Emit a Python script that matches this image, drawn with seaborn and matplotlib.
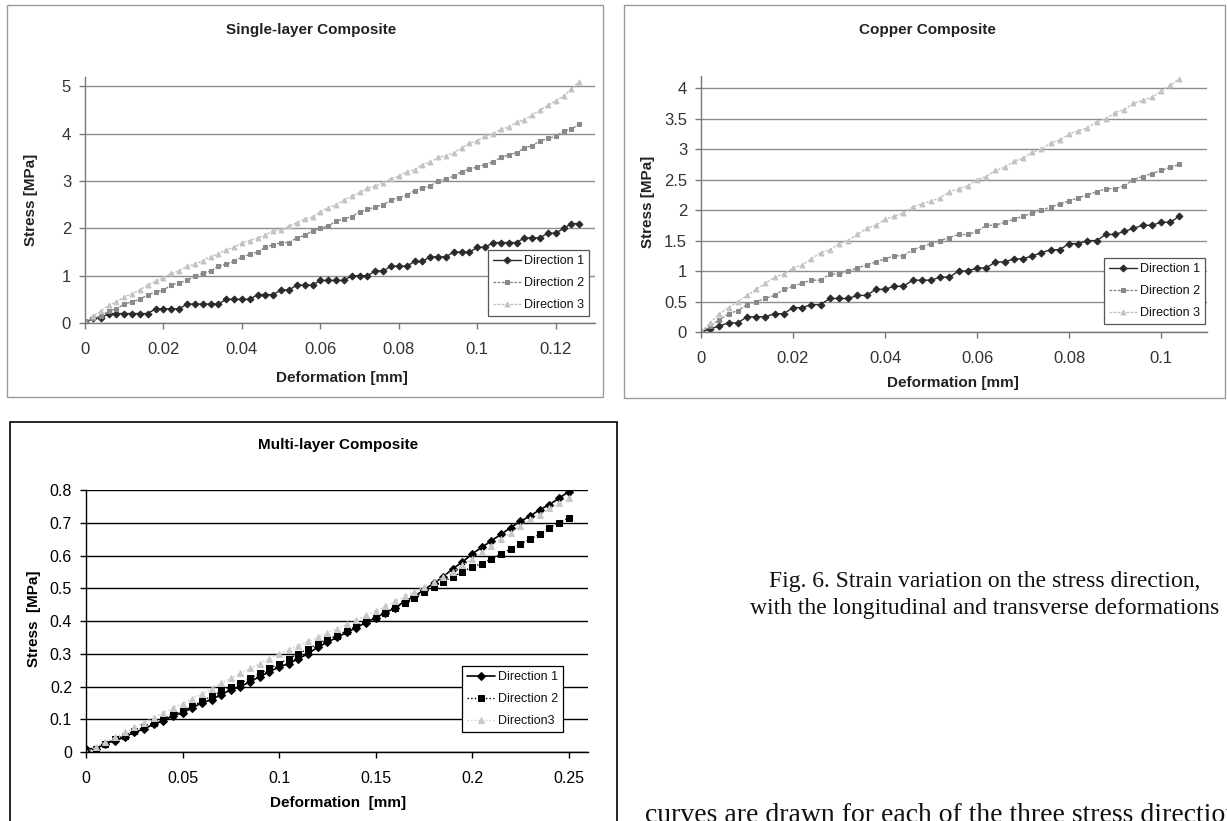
import matplotlib
matplotlib.use("Agg")
import matplotlib.pyplot as plt
import seaborn as sns
from matplotlib.patches import Rectangle

# ---------------- data ----------------
# Single-layer composite
single_x = [0.000, 0.002, 0.004, 0.006, 0.008, 0.010, 0.012, 0.014, 0.016, 0.018,
            0.020, 0.022, 0.024, 0.026, 0.028, 0.030, 0.032, 0.034, 0.036, 0.038,
            0.040, 0.042, 0.044, 0.046, 0.048, 0.050, 0.052, 0.054, 0.056, 0.058,
            0.060, 0.062, 0.064, 0.066, 0.068, 0.070, 0.072, 0.074, 0.076, 0.078,
            0.080, 0.082, 0.084, 0.086, 0.088, 0.090, 0.092, 0.094, 0.096, 0.098,
            0.100, 0.102, 0.104, 0.106, 0.108, 0.110, 0.112, 0.114, 0.116, 0.118,
            0.120, 0.122, 0.124, 0.126]
single_d1 = [0.0, 0.1, 0.1, 0.2, 0.2, 0.2, 0.2, 0.2, 0.2, 0.3,
             0.3, 0.3, 0.3, 0.4, 0.4, 0.4, 0.4, 0.4, 0.5, 0.5,
             0.5, 0.5, 0.6, 0.6, 0.6, 0.7, 0.7, 0.8, 0.8, 0.8,
             0.9, 0.9, 0.9, 0.9, 1.0, 1.0, 1.0, 1.1, 1.1, 1.2,
             1.2, 1.2, 1.3, 1.3, 1.4, 1.4, 1.4, 1.5, 1.5, 1.5,
             1.6, 1.6, 1.7, 1.7, 1.7, 1.7, 1.8, 1.8, 1.8, 1.9,
             1.9, 2.0, 2.1, 2.1]
single_d2 = [0.05, 0.1, 0.15, 0.25, 0.3, 0.4, 0.45, 0.5, 0.6, 0.65,
             0.7, 0.8, 0.85, 0.9, 1.0, 1.05, 1.1, 1.2, 1.25, 1.3,
             1.4, 1.45, 1.5, 1.6, 1.65, 1.7, 1.7, 1.8, 1.85, 1.95,
             2.0, 2.05, 2.15, 2.2, 2.25, 2.35, 2.4, 2.45, 2.5, 2.6,
             2.65, 2.7, 2.8, 2.85, 2.9, 3.0, 3.05, 3.1, 3.2, 3.25,
             3.3, 3.35, 3.4, 3.5, 3.55, 3.6, 3.7, 3.75, 3.85, 3.9,
             3.95, 4.05, 4.1, 4.2]
single_d3 = [0.0, 0.15, 0.25, 0.37, 0.45, 0.55, 0.62, 0.7, 0.8, 0.88,
             0.96, 1.05, 1.1, 1.2, 1.24, 1.32, 1.4, 1.46, 1.55, 1.6,
             1.7, 1.74, 1.8, 1.86, 1.95, 1.96, 2.05, 2.12, 2.2, 2.24,
             2.35, 2.44, 2.5, 2.6, 2.68, 2.76, 2.85, 2.9, 2.96, 3.05,
             3.1, 3.2, 3.24, 3.35, 3.4, 3.5, 3.54, 3.6, 3.7, 3.8,
             3.85, 3.95, 4.0, 4.1, 4.14, 4.25, 4.3, 4.4, 4.5, 4.6,
             4.7, 4.8, 4.95, 5.1]

# Copper composite
copper_x = [0.000, 0.002, 0.004, 0.006, 0.008, 0.010, 0.012, 0.014, 0.016, 0.018,
            0.020, 0.022, 0.024, 0.026, 0.028, 0.030, 0.032, 0.034, 0.036, 0.038,
            0.040, 0.042, 0.044, 0.046, 0.048, 0.050, 0.052, 0.054, 0.056, 0.058,
            0.060, 0.062, 0.064, 0.066, 0.068, 0.070, 0.072, 0.074, 0.076, 0.078,
            0.080, 0.082, 0.084, 0.086, 0.088, 0.090, 0.092, 0.094, 0.096, 0.098,
            0.100, 0.102, 0.104]
copper_d1 = [0.0, 0.05, 0.1, 0.15, 0.15, 0.25, 0.25, 0.25, 0.3, 0.3,
             0.4, 0.4, 0.45, 0.45, 0.55, 0.55, 0.55, 0.6, 0.6, 0.7,
             0.7, 0.75, 0.75, 0.85, 0.85, 0.85, 0.9, 0.9, 1.0, 1.0,
             1.05, 1.05, 1.15, 1.15, 1.2, 1.2, 1.25, 1.3, 1.35, 1.35,
             1.45, 1.45, 1.5, 1.5, 1.6, 1.6, 1.65, 1.7, 1.75, 1.75,
             1.8, 1.8, 1.9]
copper_d2 = [0.0, 0.1, 0.2, 0.3, 0.35, 0.45, 0.5, 0.55, 0.6, 0.7,
             0.75, 0.8, 0.85, 0.85, 0.95, 0.95, 1.0, 1.05, 1.1, 1.15,
             1.2, 1.25, 1.25, 1.35, 1.4, 1.45, 1.5, 1.55, 1.6, 1.6,
             1.65, 1.75, 1.75, 1.8, 1.85, 1.9, 1.95, 2.0, 2.05, 2.1,
             2.15, 2.2, 2.25, 2.3, 2.35, 2.35, 2.4, 2.5, 2.55, 2.6,
             2.65, 2.7, 2.75]
copper_d3 = [0.0, 0.15, 0.3, 0.4, 0.5, 0.6, 0.7, 0.8, 0.9, 0.95,
             1.05, 1.1, 1.2, 1.3, 1.35, 1.45, 1.5, 1.6, 1.7, 1.75,
             1.85, 1.9, 1.95, 2.05, 2.1, 2.15, 2.2, 2.3, 2.35, 2.4,
             2.5, 2.55, 2.65, 2.7, 2.8, 2.85, 2.95, 3.0, 3.1, 3.15,
             3.25, 3.3, 3.35, 3.45, 3.5, 3.6, 3.65, 3.75, 3.8, 3.85,
             3.95, 4.05, 4.15]

# Multi-layer composite
multi_x = [0.000, 0.005, 0.010, 0.015, 0.020, 0.025, 0.030, 0.035, 0.040, 0.045,
           0.050, 0.055, 0.060, 0.065, 0.070, 0.075, 0.080, 0.085, 0.090, 0.095,
           0.100, 0.105, 0.110, 0.115, 0.120, 0.125, 0.130, 0.135, 0.140, 0.145,
           0.150, 0.155, 0.160, 0.165, 0.170, 0.175, 0.180, 0.185, 0.190, 0.195,
           0.200, 0.205, 0.210, 0.215, 0.220, 0.225, 0.230, 0.235, 0.240, 0.245,
           0.250]
multi_d1 = [0.01, 0.01, 0.025, 0.035, 0.045, 0.06, 0.07, 0.085, 0.095, 0.11,
            0.12, 0.135, 0.15, 0.16, 0.175, 0.19, 0.2, 0.215, 0.23, 0.245,
            0.26, 0.27, 0.285, 0.30, 0.32, 0.335, 0.35, 0.365, 0.38, 0.395,
            0.41, 0.425, 0.44, 0.46, 0.475, 0.495, 0.515, 0.535, 0.56, 0.58,
            0.605, 0.625, 0.645, 0.665, 0.685, 0.705, 0.72, 0.74, 0.755, 0.775,
            0.795]
multi_d2 = [0.0, 0.01, 0.025, 0.04, 0.05, 0.065, 0.075, 0.09, 0.1, 0.115,
            0.125, 0.14, 0.155, 0.17, 0.185, 0.2, 0.21, 0.225, 0.24, 0.255,
            0.27, 0.285, 0.3, 0.315, 0.33, 0.345, 0.355, 0.37, 0.385, 0.4,
            0.41, 0.425, 0.44, 0.455, 0.47, 0.49, 0.505, 0.52, 0.535, 0.55,
            0.565, 0.575, 0.59, 0.605, 0.62, 0.635, 0.65, 0.665, 0.685, 0.70,
            0.715]
multi_d3 = [0.0, 0.015, 0.03, 0.045, 0.06, 0.075, 0.09, 0.105, 0.12, 0.135,
            0.148, 0.163, 0.178, 0.193, 0.21, 0.225, 0.24, 0.255, 0.27, 0.285,
            0.30, 0.312, 0.325, 0.338, 0.35, 0.363, 0.377, 0.39, 0.403, 0.417,
            0.43, 0.445, 0.46, 0.475, 0.49, 0.505, 0.52, 0.535, 0.55, 0.57,
            0.59, 0.61, 0.63, 0.65, 0.67, 0.69, 0.71, 0.725, 0.745, 0.76,
            0.775]

# tick labels
single_xticks = [0, 0.02, 0.04, 0.06, 0.08, 0.10, 0.12]
single_xlabels = ["0", "0.02", "0.04", "0.06", "0.08", "0.1", "0.12"]
single_yticks = [0, 1, 2, 3, 4, 5]
single_ylabels = ["0", "1", "2", "3", "4", "5"]
copper_xticks = [0, 0.02, 0.04, 0.06, 0.08, 0.10]
copper_xlabels = ["0", "0.02", "0.04", "0.06", "0.08", "0.1"]
copper_yticks = [0, 0.5, 1, 1.5, 2, 2.5, 3, 3.5, 4]
copper_ylabels = ["0", "0.5", "1", "1.5", "2", "2.5", "3", "3.5", "4"]
multi_xticks = [0, 0.05, 0.10, 0.15, 0.20, 0.25]
multi_xlabels = ["0", "0.05", "0.1", "0.15", "0.2", "0.25"]
multi_yticks = [0, 0.1, 0.2, 0.3, 0.4, 0.5, 0.6, 0.7, 0.8]
multi_ylabels = ["0", "0.1", "0.2", "0.3", "0.4", "0.5", "0.6", "0.7", "0.8"]

labels_a = ["Direction 1", "Direction 2", "Direction 3"]
labels_b = ["Direction 1", "Direction 2", "Direction3"]

caption_1 = "Fig. 6. Strain variation on the stress direction,"
caption_2 = "with the longitudinal and transverse deformations"
body_text = "curves are drawn for each of the three stress directions"

# ---------------- figure ----------------
sns.set_theme(style="white")
plt.rcParams['font.family'] = ['Liberation Sans', 'DejaVu Sans']

W, H = 1227, 821
fig = plt.figure(figsize=(W / 100, H / 100), dpi=100)
fig.patch.set_facecolor('white')


def fx(x):
    return x / W


def fy(y):
    return 1 - y / H


def make_axes(l, t, r, b):
    return fig.add_axes([fx(l), fy(b), (r - l) / W, (b - t) / H])


def style_axes(ax, xlim, ylim, xt, xl, yt, yl, line_col, grid_col, text_col, fs):
    ax.set_facecolor('white')
    ax.set_xlim(*xlim)
    ax.set_ylim(*ylim)
    ax.set_xticks(xt, xl)
    ax.set_yticks(yt, yl)
    ax.set_xlabel("")
    ax.set_ylabel("")
    for s in ['top', 'right']:
        ax.spines[s].set_visible(False)
    for s in ['left', 'bottom']:
        ax.spines[s].set_visible(True)
        ax.spines[s].set_color(line_col)
        ax.spines[s].set_linewidth(1.0)
    ax.yaxis.grid(True, color=grid_col, linewidth=1.0)
    ax.xaxis.grid(False)
    ax.set_axisbelow(True)
    ax.tick_params(axis='x', direction='out', length=4, width=1, color=line_col,
                   pad=10, labelsize=fs, labelcolor=text_col, bottom=True)
    ax.tick_params(axis='y', direction='out', length=4, width=1, color=line_col,
                   pad=6, labelsize=fs, labelcolor=text_col, left=True)


def add_legend(ax, x0, y0, edge):
    h, l = ax.get_legend_handles_labels()
    leg = ax.legend(h, l, loc='upper left', bbox_to_anchor=(fx(x0), fy(y0)),
                    bbox_transform=fig.transFigure, frameon=True, fancybox=False,
                    edgecolor=edge, facecolor='white', framealpha=1, fontsize=9,
                    borderpad=0.4, labelspacing=0.8, handlelength=2.2,
                    handletextpad=0.3, borderaxespad=0)
    leg.get_frame().set_linewidth(0.9)
    for t in leg.get_texts():
        t.set_color('#111111')
    return leg


# panel boxes
fig.patches.append(Rectangle((fx(7), fy(397)), (603 - 7) / W, (397 - 5) / H,
                             transform=fig.transFigure, fill=False,
                             edgecolor='#9a9a9a', linewidth=1.0))
fig.patches.append(Rectangle((fx(624), fy(398)), (1225 - 624) / W, (398 - 5) / H,
                             transform=fig.transFigure, fill=False,
                             edgecolor='#9a9a9a', linewidth=1.0))
fig.patches.append(Rectangle((fx(10), fy(823)), (617 - 10) / W, (823 - 422) / H,
                             transform=fig.transFigure, fill=False,
                             edgecolor='black', linewidth=1.2))

# ---- panel 1: Single-layer ----
ax1 = make_axes(85, 77, 595, 323)
sns.lineplot(x=single_x, y=single_d1, ax=ax1, estimator=None, sort=False,
             label=labels_a[0], color='#2a2a2a', marker='D', markersize=3.5,
             markeredgecolor='#2a2a2a', linewidth=1.0)
sns.lineplot(x=single_x, y=single_d2, ax=ax1, estimator=None, sort=False,
             label=labels_a[1], color='#8a8a8a', marker='s', markersize=3.5,
             markeredgecolor='#8a8a8a', linewidth=1.0, linestyle=(0, (2, 1)))
sns.lineplot(x=single_x, y=single_d3, ax=ax1, estimator=None, sort=False,
             label=labels_a[2], color='#c2c2c2', marker='^', markersize=3.5,
             markeredgecolor='#c2c2c2', linewidth=1.0, linestyle=(0, (2, 1)))
style_axes(ax1, (0, 0.13), (0, 5.2), single_xticks, single_xlabels,
           single_yticks, single_ylabels, '#777777', '#8c8c8c', '#333333', 12)
add_legend(ax1, 488, 250, '#555555')

fig.text(fx(311), fy(30), "Single-layer Composite", ha='center', va='center',
         fontsize=11, fontweight='bold', color='#222222')
fig.text(fx(31), fy(200), "Stress [MPa]", ha='center', va='center', rotation=90,
         fontsize=11, fontweight='bold', color='#222222')
fig.text(fx(342), fy(378), "Deformation [mm]", ha='center', va='center',
         fontsize=11, fontweight='bold', color='#222222')

# ---- panel 2: Copper ----
ax2 = make_axes(701, 76, 1207, 332)
sns.lineplot(x=copper_x, y=copper_d1, ax=ax2, estimator=None, sort=False,
             label=labels_a[0], color='#2a2a2a', marker='D', markersize=3.5,
             markeredgecolor='#2a2a2a', linewidth=1.0)
sns.lineplot(x=copper_x, y=copper_d2, ax=ax2, estimator=None, sort=False,
             label=labels_a[1], color='#8a8a8a', marker='s', markersize=3.5,
             markeredgecolor='#8a8a8a', linewidth=1.0, linestyle=(0, (2, 1)))
sns.lineplot(x=copper_x, y=copper_d3, ax=ax2, estimator=None, sort=False,
             label=labels_a[2], color='#c2c2c2', marker='^', markersize=3.5,
             markeredgecolor='#c2c2c2', linewidth=1.0, linestyle=(0, (2, 1)))
style_axes(ax2, (0, 0.11), (0, 4.2), copper_xticks, copper_xlabels,
           copper_yticks, copper_ylabels, '#777777', '#8c8c8c', '#333333', 12)
add_legend(ax2, 1104, 258, '#555555')

fig.text(fx(927), fy(30), "Copper Composite", ha='center', va='center',
         fontsize=11, fontweight='bold', color='#222222')
fig.text(fx(648), fy(202), "Stress [MPa]", ha='center', va='center', rotation=90,
         fontsize=11, fontweight='bold', color='#222222')
fig.text(fx(953), fy(383), "Deformation [mm]", ha='center', va='center',
         fontsize=11, fontweight='bold', color='#222222')

# ---- panel 3: Multi-layer ----
ax3 = make_axes(86, 490, 588, 752)
sns.lineplot(x=multi_x, y=multi_d1, ax=ax3, estimator=None, sort=False,
             label=labels_b[0], color='black', marker='D', markersize=4,
             markeredgecolor='black', linewidth=1.2)
sns.lineplot(x=multi_x, y=multi_d2, ax=ax3, estimator=None, sort=False,
             label=labels_b[1], color='black', marker='s', markersize=4,
             markeredgecolor='black', linewidth=1.0, linestyle=':')
sns.lineplot(x=multi_x, y=multi_d3, ax=ax3, estimator=None, sort=False,
             label=labels_b[2], color='#c8c8c8', marker='^', markersize=4,
             markeredgecolor='#c8c8c8', linewidth=1.0, linestyle=':')
style_axes(ax3, (0, 0.26), (0, 0.8), multi_xticks, multi_xlabels,
           multi_yticks, multi_ylabels, 'black', 'black', 'black', 11.5)
add_legend(ax3, 462, 666, 'black')

fig.text(fx(338), fy(445), "Multi-layer Composite", ha='center', va='center',
         fontsize=11, fontweight='bold', color='black')
fig.text(fx(34), fy(619), "Stress  [MPa]", ha='center', va='center', rotation=90,
         fontsize=11, fontweight='bold', color='black')
fig.text(fx(338), fy(803), "Deformation  [mm]", ha='center', va='center',
         fontsize=11, fontweight='bold', color='black')

# ---- caption text ----
fig.text(fx(985), fy(582), caption_1, ha='center', va='center', fontsize=17,
         family=['Liberation Serif', 'DejaVu Serif'], color='#111111')
fig.text(fx(985), fy(608), caption_2, ha='center', va='center', fontsize=17,
         family=['Liberation Serif', 'DejaVu Serif'], color='#111111')
fig.text(fx(645), fy(822), body_text, ha='left', va='baseline', fontsize=20,
         family=['Liberation Serif', 'DejaVu Serif'], color='#111111')

fig.savefig("out.png", dpi=100, facecolor='white')
